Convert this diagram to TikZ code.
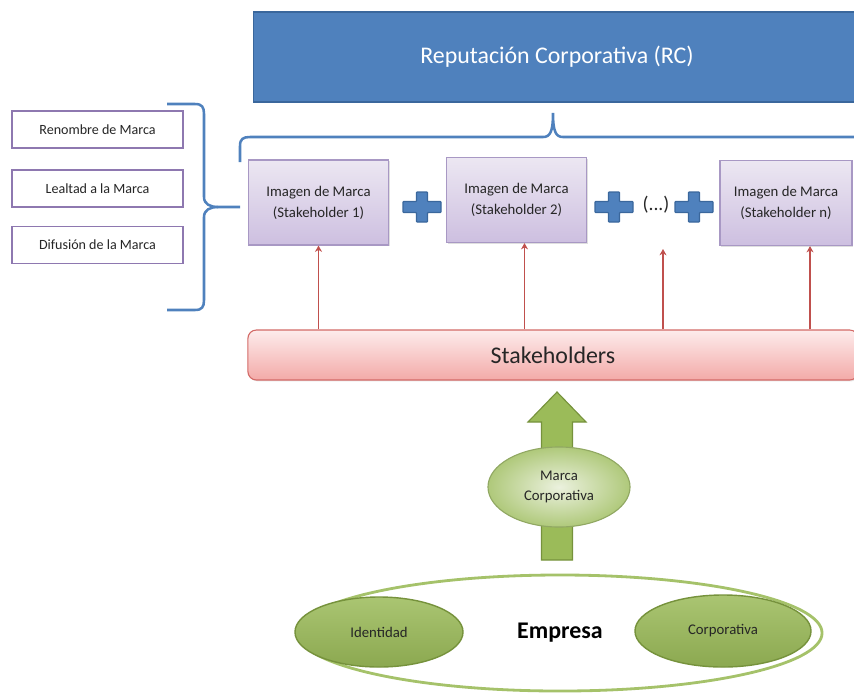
\documentclass[tikz,border=0pt]{standalone}
\usepackage{fontspec}
\setmainfont{Carlito}
\usetikzlibrary{positioning,shadows,arrows.meta,shapes,calc}
\definecolor{rcblue}{HTML}{4F81BD}
\definecolor{rcdark}{HTML}{3A679C}
\definecolor{lavtop}{HTML}{ECE7F2}
\definecolor{lavbot}{HTML}{CDBFE0}
\definecolor{lavborder}{HTML}{A898C4}
\definecolor{leftpurple}{HTML}{8E78B0}
\definecolor{stktop}{HTML}{FDECEC}
\definecolor{stkbot}{HTML}{F3AAA8}
\definecolor{stkborder}{HTML}{D36A67}
\definecolor{arrowred}{HTML}{C0504D}
\definecolor{oliv}{HTML}{9BBB59}
\definecolor{olivdark}{HTML}{76923C}
\definecolor{olivlight}{HTML}{EBF1DE}
\definecolor{darktext}{HTML}{262626}

\begin{document}
\begin{tikzpicture}
        [x=0.025cm, y=-0.025cm, font=\fontsize{10.5}{15}\selectfont,
        imgbox/.style={draw=lavborder, thick, top color=lavtop, bottom color=lavbot,
          minimum width=3.5cm, minimum height=2.125cm, align=center, text=darktext,
          drop shadow={opacity=0.25, shadow xshift=1pt, shadow yshift=-1pt}},
        leftbox/.style={draw=leftpurple, line width=1.2pt, fill=white,
          minimum width=4.275cm, minimum height=0.925cm,
          font=\fontsize{10}{12}\selectfont, text=darktext},
        bluebrace/.style={draw=rcblue, line width=1.8pt},
        upline/.style={draw=arrowred, line width=1.3pt, -{Stealth[length=4.5pt, width=5pt]}},
        plusshape/.style={fill=rcblue, draw=rcdark, line width=0.8pt, rounded corners=0.5pt},
        greenoval/.style={ellipse, draw=olivdark, line width=1pt, top color=oliv!85!white,
          bottom color=oliv!90!black, inner sep=0pt, text=darktext}]
        \useasboundingbox (0,0) rectangle (854,693);
        \clip (0,0) rectangle (854,693);
        % top block
        \node [fill=rcblue, draw=rcdark, thick, minimum width=15.15cm, minimum height=2.25cm,
          text=white, font=\fontsize{17}{20}\selectfont,
          drop shadow={opacity=0.25, shadow xshift=1pt, shadow yshift=-1pt}]
          (rc) at (557,57) {Reputación Corporativa (RC)};
        % images of the stakeholders
        \node [imgbox] (img1) at (318.5,202.5) {Imagen de Marca\\(Stakeholder 1)};
        \node [imgbox] (img2) at (516.5,200) {Imagen de Marca\\(Stakeholder 2)};
        \node [imgbox, minimum width=3.3cm] (imgn) at (786,203) {Imagen de Marca\\(Stakeholder n)};
        \node [text=darktext, font=\fontsize{14}{16}\selectfont] (dots) at (656,205) {(...)};
        \foreach \px in {422,614,694}
          \draw [plusshape] (\px,207) ++(-19,-5.5) -- ++(13.5,0) -- ++(0,-9.5) -- ++(11,0)
            -- ++(0,9.5) -- ++(13.5,0) -- ++(0,11) -- ++(-13.5,0) -- ++(0,9.5) -- ++(-11,0)
            -- ++(0,-9.5) -- ++(-13.5,0) -- cycle;
        % brace under the top block
        \draw [bluebrace] (240,162) -- (240,146) .. controls (240,139) and (243,137) .. (250,137)
          -- (543,137) .. controls (550,137) and (553,132) .. (553,113)
          .. controls (553,132) and (556,137) .. (563,137) -- (870,137);
        % left boxes
        \node [leftbox] (renombre) at (97.5,129.5) {Renombre de Marca};
        \node [leftbox, below=0.5cm of renombre] (lealtad) {Lealtad a la Marca};
        \node [leftbox, below=0.45cm of lealtad] (difusion) {Difusión de la Marca};
        \coordinate (lbtip) at (240,207);
        \draw [bluebrace] (167,104) -- (195,104) .. controls (202,104) and (204,107) .. (204,114)
          -- (204,197) .. controls (204,204) and (210,207) .. (218,207) -- (lbtip);
        \draw [bluebrace] (167,310) -- (195,310) .. controls (202,310) and (204,307) .. (204,300)
          -- (204,217) .. controls (204,210) and (210,207) .. (218,207);
        % stakeholders
        \node [draw=stkborder, thick, top color=stktop, bottom color=stkbot, rounded corners=6pt,
          minimum width=15.25cm, minimum height=1.25cm, text=darktext,
          font=\fontsize{17}{20}\selectfont,
          drop shadow={opacity=0.2, shadow xshift=1pt, shadow yshift=-1pt}]
          (stk) at (553,355) {Stakeholders};
        \coordinate (dotsend) at (663,249);
        \draw [upline] (img1.south |- stk.north) -- (img1.south);
        \draw [upline] ([xshift=0.2cm]img2.south |- stk.north) -- ([xshift=0.2cm]img2.south);
        \draw [upline] (dotsend |- stk.north) -- (dotsend);
        \draw [upline] ([xshift=0.6cm]imgn.south |- stk.north) -- ([xshift=0.6cm]imgn.south);
        % company
        \node [ellipse, draw=oliv!90!white, line width=2pt, minimum width=13.1cm, minimum height=2.9cm,
          font=\bfseries\fontsize{17}{20}\selectfont, text=black] (empresa) at (560,633) {Empresa};
        \node [greenoval, minimum width=4.2cm, minimum height=1.75cm] (identidad) at (379,632) {Identidad};
        \node [greenoval, minimum width=4.4cm, minimum height=1.8cm] (corporativa) at (723,631) {Corporativa};
        % big arrow and corporate brand
        \coordinate (arrfoot) at (557,560);
        \coordinate (arrhead) at (557,392);
        \draw [fill=oliv, draw=olivdark, line width=0.8pt] (arrfoot) ++(-15.5,0) -- ++(0,-138) -- ++(-13.5,0)
          -- (arrhead) -- ++(29,30) -- ++(-13.5,0) -- ++(0,138) -- cycle;
        \node [ellipse, draw=olivdark!80!white, line width=0.8pt, inner color=olivlight, outer color=oliv!80!white,
          minimum width=3.55cm, minimum height=2cm, align=center, text=darktext,
          font=\fontsize{10.5}{14}\selectfont] (marca) at (559,487) {Marca\\Corporativa};
\end{tikzpicture}
\end{document}
